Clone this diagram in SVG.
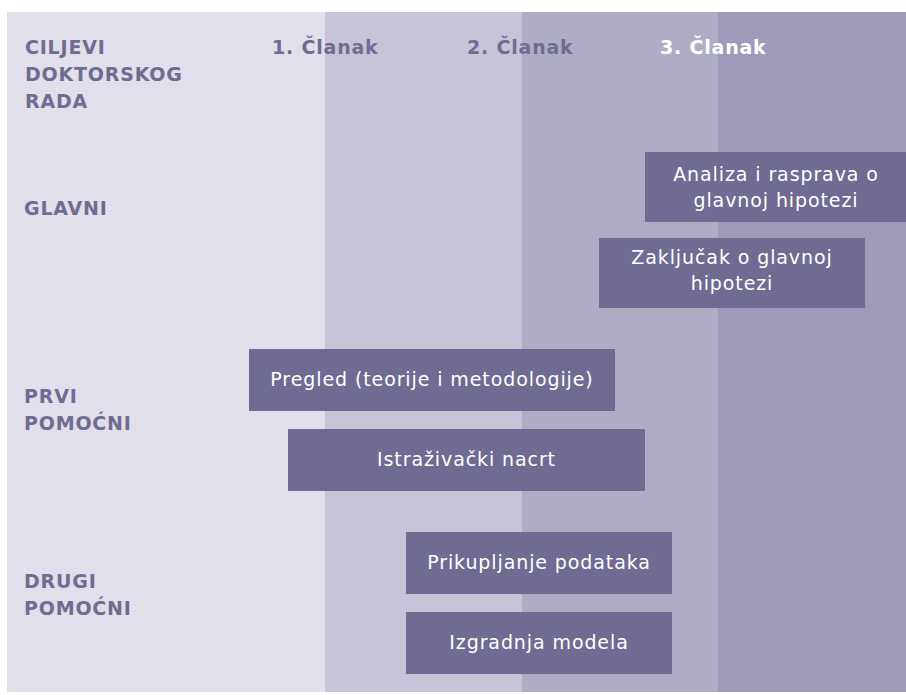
<svg xmlns="http://www.w3.org/2000/svg" width="906" height="695" viewBox="0 0 906 695">
<style>
.hd{font-family:"DejaVu Sans","Liberation Sans",sans-serif;font-weight:bold;font-size:19px;fill:#6f6b93;letter-spacing:0.8px}
.box{fill:#6f6b93}
.bt{font-family:"DejaVu Sans","Liberation Sans",sans-serif;font-size:19px;fill:#ffffff;text-anchor:middle;letter-spacing:0.9px}
</style>
<rect x="0" y="0" width="906" height="695" fill="#ffffff"/>
<g id="columns">
<rect x="7" y="12" width="318" height="680" fill="#e0dfea"/>
<rect x="325" y="12" width="197" height="680" fill="#c7c4d8"/>
<rect x="522" y="12" width="196" height="680" fill="#afadc6"/>
<rect x="718" y="12" width="188" height="680" fill="#9f9aba"/>
</g>
<g id="headers">
<text class="hd" x="25" y="54">CILJEVI</text>
<text class="hd" x="25" y="81">DOKTORSKOG</text>
<text class="hd" x="25" y="108">RADA</text>
<text class="hd" x="272" y="54">1. Članak</text>
<text class="hd" x="467" y="54">2. Članak</text>
<text class="hd" x="660" y="54" style="fill:#ffffff">3. Članak</text>
</g>
<g id="rows">
<text class="hd" x="24" y="215">GLAVNI</text>
<text class="hd" x="24" y="403">PRVI</text>
<text class="hd" x="24" y="430">POMOĆNI</text>
<text class="hd" x="24" y="588">DRUGI</text>
<text class="hd" x="24" y="615">POMOĆNI</text>
</g>
<g id="n-analiza">
<rect class="box" x="645" y="152" width="261" height="70"/>
<text class="bt" x="776" y="181">Analiza i rasprava o</text>
<text class="bt" x="776" y="207">glavnoj hipotezi</text>
</g>
<g id="n-zakljucak">
<rect class="box" x="599" y="238" width="266" height="70"/>
<text class="bt" x="732" y="264">Zaključak o glavnoj</text>
<text class="bt" x="732" y="290">hipotezi</text>
</g>
<g id="n-pregled">
<rect class="box" x="249" y="349" width="366" height="62"/>
<text class="bt" x="432" y="386">Pregled (teorije i metodologije)</text>
</g>
<g id="n-nacrt">
<rect class="box" x="288" y="429" width="357" height="62"/>
<text class="bt" x="466.5" y="466">Istraživački nacrt</text>
</g>
<g id="n-prikupljanje">
<rect class="box" x="406" y="532" width="266" height="62"/>
<text class="bt" x="539" y="569">Prikupljanje podataka</text>
</g>
<g id="n-izgradnja">
<rect class="box" x="406" y="612" width="266" height="62"/>
<text class="bt" x="539" y="649">Izgradnja modela</text>
</g>
<g id="connectors"></g>
</svg>
